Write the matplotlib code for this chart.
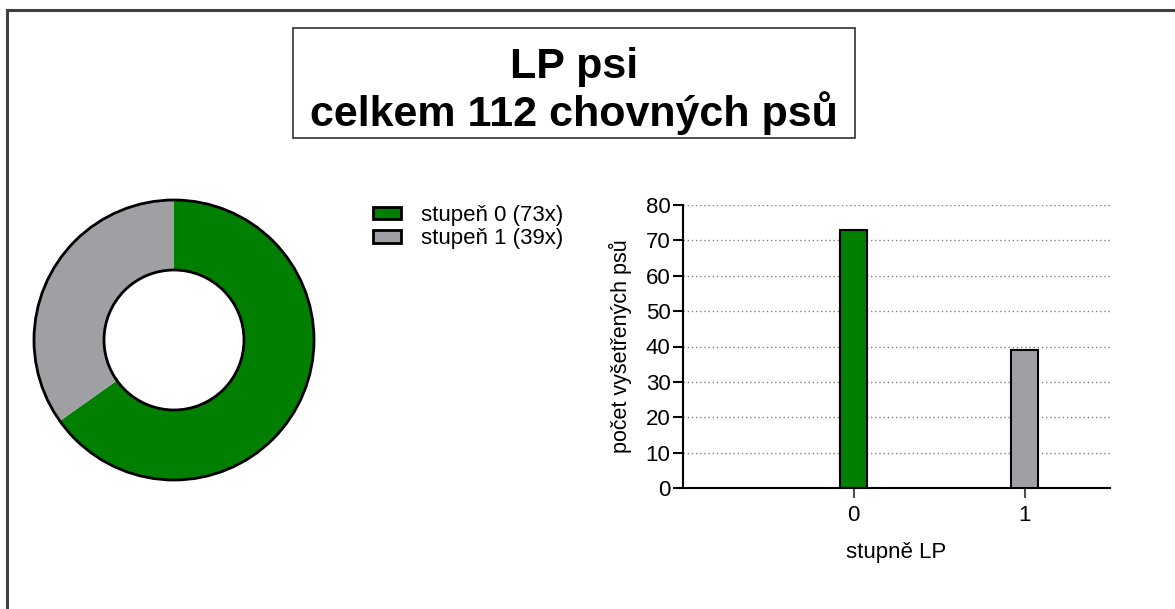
import matplotlib.pyplot as plt
from matplotlib.patches import Rectangle
from matplotlib.lines import Line2D

plt.rcParams['font.family'] = ['Liberation Sans', 'DejaVu Sans']

# data
stupne = ['0', '1']
pocty = [73, 39]
legenda = ['stupeň 0 (73x)', 'stupeň 1 (39x)']
barvy = ['#007f00', '#a0a0a4']

W, H = 1175, 609
fig = plt.figure(figsize=(W / 100, H / 100), dpi=100)

def fx(px):
    return px / W

def fy(py):
    return 1 - py / H

# outer frame (top and left edges only)
fig.add_artist(Line2D([fx(7), 1], [fy(10), fy(10)], color='#404040', lw=2.2))
fig.add_artist(Line2D([fx(7), fx(7)], [fy(10), 0], color='#404040', lw=2.2))

# title box
fig.add_artist(Rectangle((fx(293), fy(138)), fx(855) - fx(293), fy(28) - fy(138),
                         fill=False, edgecolor='#303030', lw=1.2))
fig.text(fx(574), fy(78), 'LP psi', ha='center', va='baseline',
         fontsize=31, fontweight='bold')
fig.text(fx(574), fy(126), 'celkem 112 chovných psů', ha='center', va='baseline',
         fontsize=31, fontweight='bold')

# donut
cx, cy, r = 174, 340, 140
half = 150
ax = fig.add_axes([fx(cx - half), fy(cy + half), 2 * half / W, 2 * half / H])
wedges, _ = ax.pie(pocty, colors=barvy, startangle=90, counterclock=False,
                   radius=1, wedgeprops=dict(width=0.5, edgecolor='none'))
# black outlines on outer and inner circle
ax.add_patch(plt.Circle((0, 0), 1, fill=False, edgecolor='black', lw=2))
ax.add_patch(plt.Circle((0, 0), 0.5, fill=False, edgecolor='black', lw=2))
ax.set_xlim(-half / r, half / r)
ax.set_ylim(-half / r, half / r)
ax.set_aspect('equal')
ax.axis('off')

# legend
handles = [Rectangle((0, 0), 1, 1, facecolor=c, edgecolor='black', lw=2) for c in barvy]
fig.legend(handles, legenda, loc='upper left', bbox_to_anchor=(fx(355), fy(187)),
           frameon=False, fontsize=16, handlelength=1.25, handleheight=0.5,
           handletextpad=0.9, labelspacing=0.12, borderpad=0.3)

# bar chart
bx = fig.add_axes([fx(683), fy(488), fx(1110) - fx(683), fy(205) - fy(488)])
pos = [int(s) for s in stupne]
bx.bar(pos, pocty, width=0.16, color=barvy, edgecolor='black', lw=1.5, zorder=3)
bx.set_xlim(-1, 1.5)
bx.set_ylim(0, 80)
bx.set_yticks(range(0, 81, 10))
bx.set_xticks(pos)
bx.set_xticklabels(stupne)
for y in range(10, 81, 10):
    bx.axhline(y, color='#808080', lw=1.0, ls=(0, (1, 2)), zorder=1)
for s in ['top', 'right']:
    bx.spines[s].set_visible(False)
for s in ['left', 'bottom']:
    bx.spines[s].set_linewidth(1.5)
bx.tick_params(axis='y', length=7, width=1.5, labelsize=16, pad=2)
bx.tick_params(axis='x', length=7, width=1.5, color='#505050', labelsize=16, pad=5)
bx.set_ylabel('počet vyšetřených psů', fontsize=15.5, labelpad=10)
bx.set_xlabel('stupně LP', fontsize=16, labelpad=12)

fig.savefig('out.png', dpi=100)
